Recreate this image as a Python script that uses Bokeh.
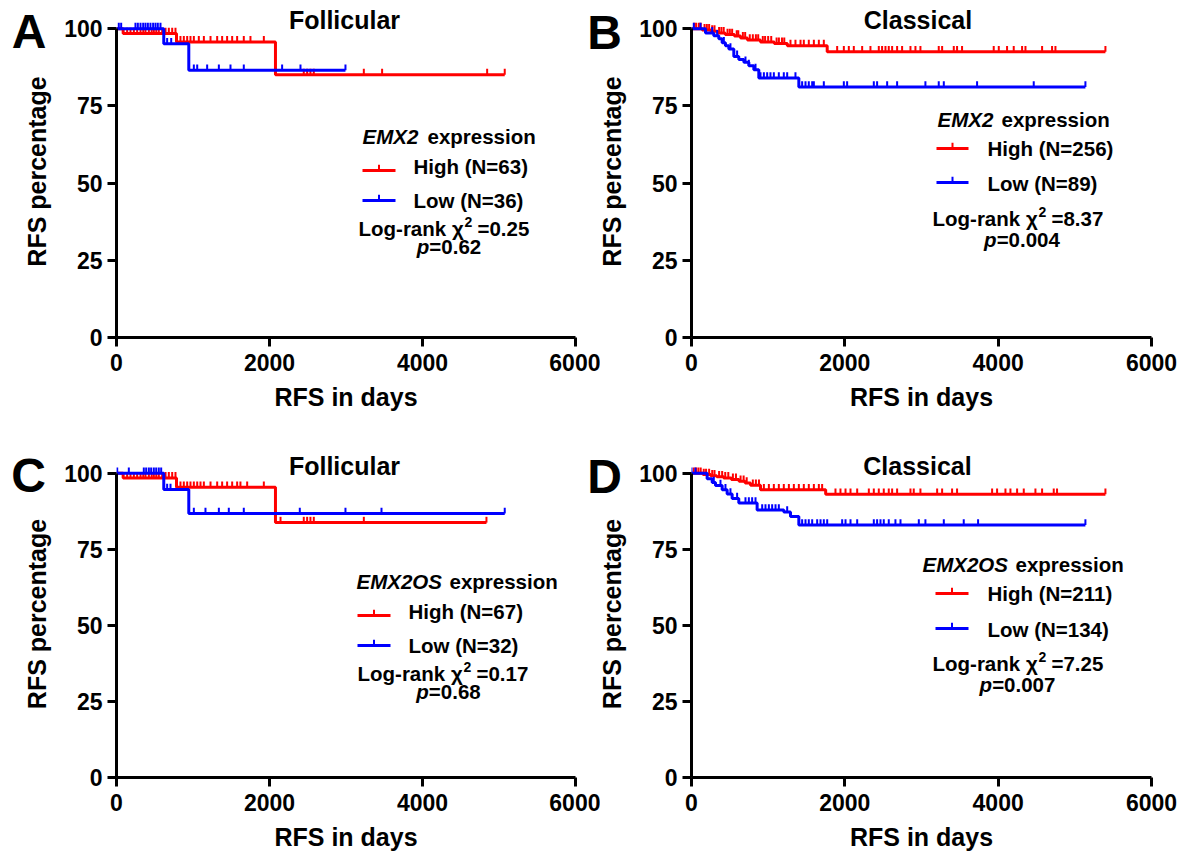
import numpy as np
from bokeh.plotting import figure
from bokeh.models import Range1d, FixedTicker, Label
from bokeh.layouts import row, column
from bokeh.embed import file_html
from bokeh.resources import INLINE

# ---------------- data ----------------
X_TICKS = [0, 2000, 4000, 6000]
Y_TICKS = [0, 25, 50, 75, 100]
LETTERS = ["A", "B", "C", "D"]
SUBTYPES = ["Follicular", "Classical", "Follicular", "Classical"]
GENES = ["EMX2", "EMX2", "EMX2OS", "EMX2OS"]
N_HIGH = [63, 256, 67, 211]
N_LOW = [36, 89, 32, 134]
CHI2 = ["0.25", "8.37", "0.17", "7.25"]
PVAL = ["0.62", "0.004", "0.68", "0.007"]

# Panel A (EMX2, follicular)
A_HIGH_T = [87, 784, 2078]
A_HIGH_S = [98.4, 95.7, 85.1]
A_HIGH_END = 5075
A_HIGH_CENS = [139, 183, 227, 270, 314, 350, 379, 423, 460, 488, 520, 553, 597, 641, 684, 728, 771,
               836, 880, 924, 967, 1011, 1076, 1142, 1229, 1316, 1381, 1446, 1512, 1577, 1664, 1751, 1926,
               2448, 2492, 2535, 2579, 3233, 3472, 4845, 5075]
A_LOW_T = [618, 945]
A_LOW_S = [95.1, 86.5]
A_LOW_END = 2993
A_LOW_CENS = [30, 61, 248, 279, 314, 349, 379, 410, 444, 479, 510, 540, 575, 662, 715,
              1011, 1055, 1185, 1338, 1490, 1664, 2165, 2405, 2993]

# Panel B (EMX2, classical)
B_HIGH_T = [140, 250, 340, 440, 560, 640, 730, 900, 1080, 1250, 1770]
B_HIGH_S = [99.6, 99.2, 98.6, 98.1, 97.6, 97.0, 96.3, 95.7, 95.2, 94.5, 92.5]
B_HIGH_END = 5399
B_HIGH_CENS = [35, 60, 95, 120, 170, 200, 230, 270, 300, 360, 390, 420, 470, 500, 530, 590, 610,
               670, 700, 760, 800, 840, 870, 930, 960, 1000, 1040, 1110, 1140, 1180, 1210, 1291,
               1356, 1422, 1465, 1530, 1596, 1661, 1726, 1900, 1987, 2052, 2117, 2226, 2334, 2443,
               2486, 2530, 2573, 2617, 2682, 2747, 2856, 2921, 2986, 3225, 3269, 3421, 3464, 3529,
               3942, 4008, 4116, 4203, 4312, 4356, 4573, 4703, 4747, 5399]
B_LOW_T = [183, 291, 356, 400, 443, 487, 552, 617, 683, 748, 813, 878, 1400]
B_LOW_S = [98.6, 97.7, 96.7, 95.4, 94.5, 93.4, 91.0, 90.0, 89.1, 88.0, 86.7, 84.0, 81.1]
B_LOW_END = 5138
B_LOW_CENS = [30, 117, 270, 335, 422, 508, 595, 704, 748, 835, 900, 944, 987, 1030, 1074, 1139,
              1204, 1248, 1356, 1443, 1487, 1530, 1574, 1596, 1726, 1987, 2030, 2378, 2421, 2552,
              2682, 3051, 3225, 3291, 3725, 4464, 5138]

# Panel C (EMX2OS, follicular)
C_HIGH_T = [87, 784, 2078]
C_HIGH_S = [98.5, 95.4, 83.8]
C_HIGH_END = 4836
C_HIGH_CENS = [139, 183, 227, 270, 314, 350, 379, 423, 460, 488, 520, 553, 597, 641, 684, 728, 771,
               836, 880, 924, 967, 1011, 1055, 1098, 1142, 1229, 1316, 1381, 1446, 1512, 1577, 1620,
               1708, 1926, 2144, 2448, 2492, 2535, 2579, 3233, 4836]
C_LOW_T = [618, 945]
C_LOW_S = [94.7, 86.8]
C_LOW_END = 5075
C_LOW_CENS = [9, 161, 357, 388, 423, 453, 488, 519, 553, 584, 662, 706, 1011, 1163, 1338, 1468,
              1664, 2396, 2993, 3464, 5075]

# Panel D (EMX2OS, classical)
D_HIGH_T = [150, 250, 330, 420, 520, 620, 700, 770, 900, 1750]
D_HIGH_S = [99.6, 99.2, 98.9, 98.5, 98.0, 97.4, 96.8, 96.1, 94.6, 93.1]
D_HIGH_END = 5399
D_HIGH_CENS = [30, 60, 90, 120, 160, 190, 230, 270, 300, 360, 400, 440, 480, 540, 580, 640, 680,
               720, 800, 840, 880, 944, 1009, 1074, 1139, 1204, 1270, 1335, 1400, 1465, 1530, 1596,
               1661, 1704, 1878, 1943, 2009, 2074, 2161, 2313, 2378, 2443, 2508, 2573, 2617, 2682,
               2856, 2899, 2986, 3204, 3269, 3399, 3464, 3921, 3986, 4095, 4160, 4247, 4334, 4486,
               4573, 4725, 4768, 5399]
D_LOW_T = [204, 270, 313, 400, 465, 530, 617, 856, 1204, 1291, 1400]
D_LOW_S = [98.2, 97.0, 96.0, 94.6, 93.2, 91.7, 90.2, 87.9, 87.3, 85.8, 83.0]
D_LOW_END = 5138
D_LOW_CENS = [0, 52, 291, 378, 443, 508, 595, 704, 748, 791, 835, 922, 965, 1009, 1052, 1096, 1139,
              1248, 1443, 1487, 1530, 1574, 1639, 1683, 1726, 1770, 1965, 2009, 2074, 2161, 2378,
              2421, 2465, 2508, 2573, 2660, 2726, 2965, 3051, 3291, 3551, 3738, 5138]

CURVES = [
    ((A_HIGH_T, A_HIGH_S, A_HIGH_END, A_HIGH_CENS), (A_LOW_T, A_LOW_S, A_LOW_END, A_LOW_CENS)),
    ((B_HIGH_T, B_HIGH_S, B_HIGH_END, B_HIGH_CENS), (B_LOW_T, B_LOW_S, B_LOW_END, B_LOW_CENS)),
    ((C_HIGH_T, C_HIGH_S, C_HIGH_END, C_HIGH_CENS), (C_LOW_T, C_LOW_S, C_LOW_END, C_LOW_CENS)),
    ((D_HIGH_T, D_HIGH_S, D_HIGH_END, D_HIGH_CENS), (D_LOW_T, D_LOW_S, D_LOW_END, D_LOW_CENS)),
]

# ---------------- style / layout ----------------
RED = "#ff0000"
BLUE = "#0000ff"
FONT = "Liberation Sans"
YTOP = 107.5
XMAX = 6000
CAPC = 0.358  # cap-centre above baseline, in em

# page-pixel geometry of each panel
GEOM = [
    dict(left=116, w=459, bottom=337, h=332, cx=0, cy=0, cw=600, ch=450, ml=-60),
    dict(left=691, w=460, bottom=337, h=332, cx=580, cy=0, cw=616, ch=450, ml=-60),
    dict(left=116, w=459, bottom=777, h=327, cx=0, cy=450, cw=600, ch=408, ml=-60),
    dict(left=691, w=460, bottom=777, h=327, cx=580, cy=450, cw=616, ch=408, ml=-60),
]
LETTER_W = 60
LETTER_X = [0, 580, 0, 580]
LETTER_ML = [0, -20, 0, -20]

# text anchors in page pixels (baselines)
TXT = [
    dict(title=(344, 28.3), letter=(28.5, 53), grp=(362, 143), grp_gap=65,
         line=(362, 395), line_y=(170, 200), lab_x=413, lab_y=(173.3, 207.3),
         lr=(358, 235), p=(448.5, 253.3)),
    dict(title=(917.5, 28.3), letter=(604, 54), grp=(937, 126.7), grp_gap=64,
         line=(936, 968), line_y=(148, 182), lab_x=987, lab_y=(155, 190.7),
         lr=(932, 225), p=(1021.5, 246.7)),
    dict(title=(344, 474), letter=(28, 499), grp=(356, 588), grp_gap=93,
         line=(357, 390), line_y=(615, 645), lab_x=408, lab_y=(618.3, 652.3),
         lr=(357, 680), p=(448, 698.3)),
    dict(title=(917, 474), letter=(604, 500), grp=(922, 571), grp_gap=93,
         line=(935, 968), line_y=(593, 628), lab_x=987, lab_y=(600, 636.7),
         lr=(932, 670), p=(1017, 691.7)),
]

CW = {"=": 0.584, ".": 0.278, " ": 0.278}


def str_w(s, size):
    return sum(CW.get(ch, 0.556) for ch in s) * size


def surv_at(t_ev, s_ev, t):
    t_ev = np.asarray(t_ev, float)
    lev = np.concatenate([[100.0], np.asarray(s_ev, float)])
    idx = np.searchsorted(t_ev, np.asarray(t, float), side="right")
    return lev[idx]


def make_letter(i):
    g = GEOM[i]
    tx = TXT[i]
    fx = LETTER_X[i]
    p = figure(width=LETTER_W, height=g["ch"], x_range=Range1d(0, LETTER_W), y_range=Range1d(0, g["ch"]),
               output_backend="svg", toolbar_location=None, x_axis_type=None, y_axis_type=None,
               title=None,
               min_border_left=0, min_border_right=0, min_border_top=0, min_border_bottom=0,
               margin=(0, 0, 0, LETTER_ML[i]))
    p.border_fill_alpha = 0
    p.background_fill_alpha = 0
    p.outline_line_color = None
    p.xgrid.visible = False
    p.ygrid.visible = False
    lx, ly = tx["letter"]
    ly = ly - CAPC * 48
    p.add_layout(Label(x=lx - fx, y=g["ch"] - (ly - g["cy"]), text=LETTERS[i], text_align="center",
                       text_baseline="middle", text_font=FONT, text_font_style="bold",
                       text_font_size="48px", text_color="black"))
    return p


def make_panel(i):
    g = GEOM[i]
    tx = TXT[i]
    mbl = g["left"] - g["cx"]
    mbr = g["cw"] - mbl - g["w"]
    mbt = (g["bottom"] - g["h"]) - g["cy"]
    mbb = g["ch"] - mbt - g["h"]
    p = figure(width=g["cw"], height=g["ch"], x_range=Range1d(0, XMAX), y_range=Range1d(0, YTOP),
               output_backend="svg", toolbar_location=None, title=None,
               min_border_left=mbl, min_border_right=mbr, min_border_top=mbt, min_border_bottom=mbb,
               margin=(0, 0, 0, g["ml"]))
    p.border_fill_alpha = 0
    p.background_fill_alpha = 0
    p.outline_line_color = None
    p.xgrid.visible = False
    p.ygrid.visible = False

    def dx(px):
        return (px - g["left"]) / g["w"] * XMAX

    def dy(py):
        return (g["bottom"] - py) / g["h"] * YTOP

    for ax, ticks, bnd in ((p.xaxis, X_TICKS, (0, 6000)), (p.yaxis, Y_TICKS, (0, 100))):
        ax.ticker = FixedTicker(ticks=ticks)
        ax.bounds = bnd
        ax.axis_line_width = 3
        ax.axis_line_color = "black"
        ax.major_tick_line_width = 3
        ax.major_tick_line_color = "black"
        ax.major_tick_out = 9
        ax.major_tick_in = 0
        ax.minor_tick_line_color = None
        ax.major_label_text_font = FONT
        ax.major_label_text_font_style = "bold"
        ax.major_label_text_font_size = "23px"
        ax.major_label_text_color = "black"
        ax.axis_label_text_font = FONT
        ax.axis_label_text_font_style = "bold"
        ax.axis_label_text_font_size = "25px"
        ax.axis_label_text_color = "black"
    p.xaxis.axis_label = "RFS in days"
    p.yaxis.axis_label = "RFS percentage"
    p.xaxis.major_label_standoff = 7
    p.xaxis.axis_label_standoff = 9
    p.yaxis.major_label_standoff = 5
    p.yaxis.axis_label_standoff = 10

    for (t_ev, s_ev, t_end, cens), col in zip(CURVES[i], (RED, BLUE)):
        xs = [0] + list(t_ev) + [t_end]
        ys = [100] + list(s_ev) + [s_ev[-1]]
        p.step(xs, ys, mode="after", line_color=col, line_width=3)
        cy = surv_at(t_ev, s_ev, cens)
        p.segment(x0=cens, y0=cy, x1=cens, y1=cy + 1.9, line_color=col, line_width=2)

    def lab(px, py, text, size, align="left", style="bold", xoff=0):
        yc = py - CAPC * size
        p.add_layout(Label(x=dx(px), y=dy(yc), text=text, x_offset=xoff, text_align=align,
                           text_baseline="middle", text_font=FONT, text_font_style=style,
                           text_font_size=f"{size}px", text_color="black"))

    lab(tx["title"][0], tx["title"][1], SUBTYPES[i], 25, align="center")
    lab(tx["grp"][0], tx["grp"][1], GENES[i], 20.5, style="bold italic")
    lab(tx["grp"][0], tx["grp"][1], "expression", 20.5, xoff=tx["grp_gap"])

    x0, x1 = tx["line"]
    for ly, col in zip(tx["line_y"], (RED, BLUE)):
        p.segment(x0=[dx(x0)], y0=[dy(ly)], x1=[dx(x1)], y1=[dy(ly)], line_color=col, line_width=3)
        xm = dx((x0 + x1) / 2)
        p.segment(x0=[xm], y0=[dy(ly)], x1=[xm], y1=[dy(ly) + 1.9], line_color=col, line_width=2)
    lab(tx["lab_x"], tx["lab_y"][0], f"High (N={N_HIGH[i]})", 20.5)
    lab(tx["lab_x"], tx["lab_y"][1], f"Low (N={N_LOW[i]})", 20.5)

    lx, ly = tx["lr"]
    lab(lx, ly, "Log-rank \u03c7", 20.5)
    lab(lx, ly - 8.5, "2", 14, xoff=106)
    lab(lx, ly, "=" + CHI2[i], 20.5, xoff=119)

    pc, py = tx["p"]
    rest = "=" + PVAL[i]
    total = 0.611 * 20.5 + str_w(rest, 20.5)
    split = -total / 2 + 0.611 * 20.5
    lab(pc, py, "p", 20.5, align="right", style="bold italic", xoff=split)
    lab(pc, py, rest, 20.5, xoff=split)
    return p


letters = [make_letter(i) for i in range(4)]
panels = [make_panel(i) for i in range(4)]
layout = column(row(letters[0], panels[0], letters[1], panels[1]),
                row(letters[2], panels[2], letters[3], panels[3]))

open("out.html", "w").write(file_html(layout, INLINE))
